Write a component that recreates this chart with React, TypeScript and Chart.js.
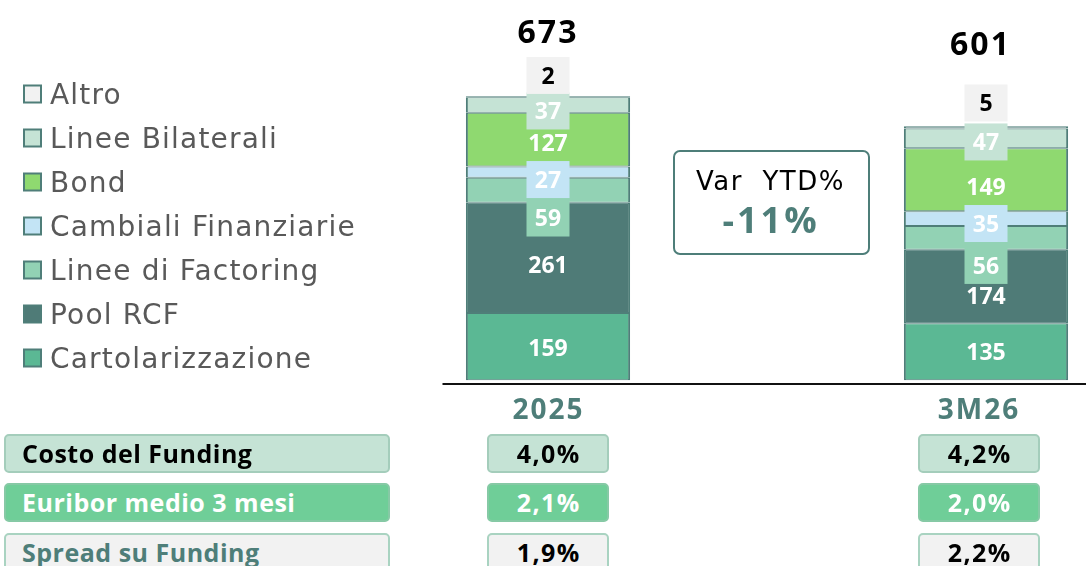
import React, { useEffect, useRef } from "react";
import { Chart, registerables } from "chart.js";

Chart.register(...registerables);

// ---------- DATA ----------
const categories = ["2025", "", "3M26"];
const seriesNames = [
  "Cartolarizzazione",
  "Pool RCF",
  "Linee di Factoring",
  "Cambiali Finanziarie",
  "Bond",
  "Linee Bilaterali",
  "Altro",
];
const cartolarizzazione = [159, null, 135];
const poolRcf = [261, null, 174];
const lineeFactoring = [59, null, 56];
const cambialiFinanziarie = [27, null, 35];
const bond = [127, null, 149];
const lineeBilaterali = [37, null, 47];
const altro = [2, null, 5];
const totals = [673, null, 601];

const varTitle = "Var  YTD%";
const varValue = "-11%";

const tableLabels = ["Costo del Funding", "Euribor medio 3 mesi", "Spread su Funding"];
const costoFunding = ["4,0%", "4,2%"];
const euriborMedio = ["2,1%", "2,0%"];
const spreadFunding = ["1,9%", "2,2%"];

// ---------- STYLE ----------
const FONT = '"Open Sans", "DejaVu Sans", sans-serif';
const FONT_REG = '"DejaVu Sans", "Open Sans", sans-serif';
const TEAL = "#4e7e79";
const BORDER = "#4f7e79";
const seriesColors = ["#5bb894", "#4f7b77", "#92d2b4", "#c3e4f5", "#8fd970", "#c5e3d5", "#f2f2f2"];
const labelBoxed = [false, false, true, true, false, true, true];
const labelColor = ["#fff", "#fff", "#fff", "#fff", "#fff", "#fff", "#000"];
// pixel nudges of the value labels from the segment centre (per category index)
const labelNudge: Record<number, number[]> = {
  0: [1.4, 7.1, 27.7, 7.4, 3.4, 6, -21.3],
  2: [0.3, 9.5, 27.6, 4.9, 7.2, 3.6, -24.4],
};
const totalNudge: Record<number, [number, number]> = { 0: [-1, -64.6], 2: [-6.5, -83] };
const catNudge: Record<number, number> = { 0: -0.5, 2: -8 };

const overlayPlugin = {
  id: "overlay",
  afterDatasetsDraw(chart: any) {
    const ctx = chart.ctx;
    const area = chart.chartArea;
    const xScale = chart.scales.x;
    ctx.save();

    // axis line
    ctx.strokeStyle = "#111";
    ctx.lineWidth = 2;
    ctx.beginPath();
    ctx.moveTo(area.left + 4, area.bottom);
    ctx.lineTo(area.right, area.bottom);
    ctx.stroke();

    const nDs = chart.data.datasets.length;
    [0, 2].forEach((i) => {
      // segment labels
      ctx.letterSpacing = "0px";
      for (let d = 0; d < nDs; d++) {
        const el: any = chart.getDatasetMeta(d).data[i];
        const v = chart.data.datasets[d].data[i];
        if (!el || v == null) continue;
        const cx = el.x;
        const cy = (el.y + el.base) / 2 + labelNudge[i][d];
        const size = 23;
        ctx.font = `bold ${size}px ${FONT}`;
        if (labelBoxed[d]) {
          ctx.fillStyle = seriesColors[d];
          ctx.fillRect(cx - 21.5, cy - 18.5, 43, 37);
        }
        ctx.fillStyle = labelColor[d];
        ctx.textAlign = "center";
        ctx.textBaseline = "alphabetic";
        ctx.fillText(String(v), cx, cy + size * 0.357);
      }
      // totals
      const topEl: any = chart.getDatasetMeta(nDs - 1).data[i];
      const tSize = 32;
      ctx.font = `bold ${tSize}px ${FONT}`;
      ctx.letterSpacing = "2px";
      ctx.fillStyle = "#000";
      ctx.textAlign = "center";
      ctx.fillText(
        String(totals[i]),
        topEl.x + totalNudge[i][0] + 1,
        topEl.y + totalNudge[i][1] + tSize * 0.357
      );
      // category labels
      ctx.font = `bold 28px ${FONT}`;
      ctx.letterSpacing = "2px";
      ctx.fillStyle = TEAL;
      ctx.fillText(String(categories[i]), xScale.getPixelForValue(i) + catNudge[i] + 1, area.bottom + 35);
    });

    // legend (top item = last dataset)
    const lx = 23;
    let ly = 94;
    ctx.letterSpacing = "1.2px";
    for (let d = nDs - 1; d >= 0; d--) {
      ctx.fillStyle = BORDER;
      ctx.fillRect(lx, ly - 9.5, 19, 19);
      ctx.fillStyle = seriesColors[d];
      ctx.fillRect(lx + 2, ly - 7.5, 15, 15);
      ctx.font = `28px ${FONT_REG}`;
      ctx.fillStyle = "#595959";
      ctx.textAlign = "left";
      ctx.fillText(chart.data.datasets[d].label, 50, ly + 28 * 0.364);
      ly += 44;
    }
    ctx.restore();
  },
};

function ChartCanvas() {
  const ref = useRef<HTMLCanvasElement | null>(null);
  useEffect(() => {
    if (!ref.current) return;
    const seriesData = [
      cartolarizzazione,
      poolRcf,
      lineeFactoring,
      cambialiFinanziarie,
      bond,
      lineeBilaterali,
      altro,
    ];
    const chart = new Chart(ref.current, {
      type: "bar",
      data: {
        labels: categories,
        datasets: seriesData.map((data, d) => ({
          label: seriesNames[d],
          data,
          backgroundColor: seriesColors[d],
          borderColor: BORDER,
          borderWidth: { left: 2, right: 2, top: 1, bottom: 1 },
          borderSkipped: false,
          categoryPercentage: 1,
          barPercentage: 0.75,
        })),
      },
      options: {
        animation: false,
        responsive: false,
        maintainAspectRatio: false,
        devicePixelRatio: 1,
        layout: { padding: { left: 438.5, right: 4.5, top: 0, bottom: 56 } },
        scales: {
          x: { display: false, stacked: true },
          y: { display: false, stacked: true, min: -9, max: 900 },
        },
        plugins: { legend: { display: false }, tooltip: { enabled: false } },
      },
      plugins: [overlayPlugin],
    });
    return () => chart.destroy();
  }, []);
  return (
    <canvas
      ref={ref}
      width={1100}
      height={440}
      style={{ position: "absolute", left: 0, top: 0, width: 1100, height: 440 }}
    />
  );
}

const rowStyles = [
  { bg: "#c5e3d5", border: "#a4cdbb", label: "#000", value: "#000" },
  { bg: "#6fce98", border: "#86c9a5", label: "#fff", value: "#fff" },
  { bg: "#f2f2f2", border: "#a9d3c1", label: TEAL, value: "#000" },
];
const rowTops = [434, 483, 533];

export default function App() {
  const values = [costoFunding, euriborMedio, spreadFunding];
  const box = (left: number, top: number, width: number, s: any, extra: any) => ({
    position: "absolute" as const,
    left,
    top,
    width,
    height: 39,
    boxSizing: "border-box" as const,
    background: s.bg,
    border: `2px solid ${s.border}`,
    borderRadius: 5,
    fontFamily: FONT,
    fontWeight: 700,
    fontSize: 25,
    lineHeight: "35px",
    whiteSpace: "nowrap" as const,
    ...extra,
  });
  return (
    <div
      style={{
        position: "absolute",
        left: 0,
        top: 0,
        width: 1086,
        height: 566,
        overflow: "hidden",
        background: "#fff",
      }}
    >
      <ChartCanvas />
      <div
        style={{
          position: "absolute",
          left: 673,
          top: 150,
          width: 197,
          height: 105,
          boxSizing: "border-box",
          border: `2px solid ${TEAL}`,
          borderRadius: 7,
        }}
      />
      <div
        style={{
          position: "absolute",
          left: 673,
          top: 168,
          width: 195,
          textAlign: "center",
          fontFamily: FONT_REG,
          fontSize: 26,
          lineHeight: "26px",
          letterSpacing: 1.5,
          whiteSpace: "pre",
          color: "#000",
        }}
      >
        {varTitle}
      </div>
      <div
        style={{
          position: "absolute",
          left: 673,
          top: 202.3,
          width: 196,
          textAlign: "center",
          fontFamily: FONT,
          fontSize: 36,
          fontWeight: 700,
          lineHeight: "36px",
          letterSpacing: 3,
          color: TEAL,
        }}
      >
        {varValue}
      </div>
      {tableLabels.map((lbl, r) => (
        <React.Fragment key={lbl}>
          <div
            style={box(4, rowTops[r], 386, rowStyles[r], {
              color: rowStyles[r].label,
              paddingLeft: 16,
              letterSpacing: 0.5,
            })}
          >
            {lbl}
          </div>
          <div
            style={box(487, rowTops[r], 122, rowStyles[r], {
              color: rowStyles[r].value,
              textAlign: "center",
              letterSpacing: 1.5,
              paddingLeft: 1.5,
            })}
          >
            {values[r][0]}
          </div>
          <div
            style={box(918, rowTops[r], 122, rowStyles[r], {
              color: rowStyles[r].value,
              textAlign: "center",
              letterSpacing: 1.5,
              paddingLeft: 1.5,
            })}
          >
            {values[r][1]}
          </div>
        </React.Fragment>
      ))}
    </div>
  );
}
